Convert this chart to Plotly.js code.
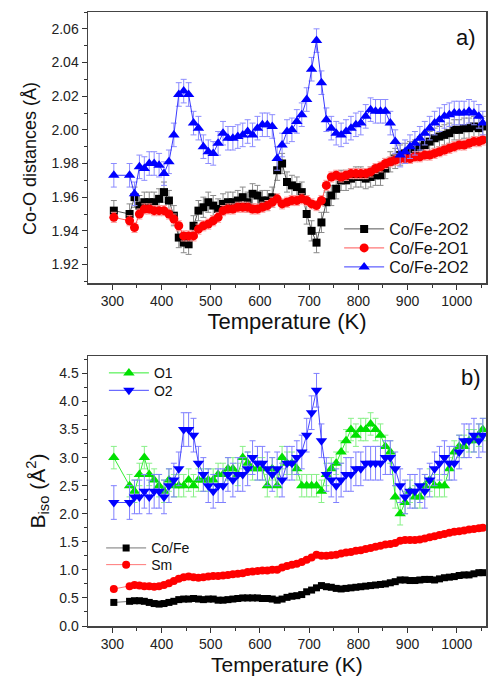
<!DOCTYPE html>
<html>
<head>
<meta charset="utf-8">
<script src="https://cdn.plot.ly/plotly-3.0.1.min.js"></script>
<style>html,body{margin:0;padding:0;background:#fff;}#chart{width:488px;height:676px;}</style>
</head>
<body>
<div id="chart"></div>
<script>
const temperature = [303,335,345,355,365,375,385,395,405,415,
425,435,445,455,465,475,485,495,505,515,
525,535,545,555,565,575,585,595,605,615,
625,635,645,655,665,675,685,695,705,715,
725,735,745,755,765,775,785,795,805,815,
825,835,845,855,865,875,885,895,905,915,
925,935,945,955,965,975,985,995,1005,1015,
1025,1035,1045,1053];

const coFe2O2_sq = [1.952,1.950,1.960,1.955,1.957,1.957,1.957,1.959,1.963,1.958,
1.949,1.936,1.933,1.932,1.943,1.952,1.954,1.957,1.955,1.953,
1.956,1.957,1.957,1.958,1.960,1.957,1.962,1.961,1.958,1.958,
1.960,1.976,1.980,1.969,1.967,1.966,1.963,1.950,1.940,1.933,
1.945,1.957,1.961,1.965,1.970,1.970,1.971,1.972,1.972,1.971,
1.972,1.973,1.973,1.977,1.981,1.983,1.985,1.986,1.987,1.988,
1.990,1.991,1.993,1.995,1.996,1.997,1.998,2.000,2.000,2.001,
2.001,2.002,2.001,2.002];

const coFe2O1 = [1.948,1.946,1.942,1.950,1.953,1.953,1.952,1.952,1.952,1.950,
1.947,1.943,1.937,1.937,1.937,1.941,1.943,1.944,1.946,1.948,
1.952,1.953,1.953,1.954,1.954,1.954,1.953,1.953,1.954,1.955,
1.957,1.959,1.956,1.957,1.958,1.958,1.959,1.958,1.956,1.955,
1.958,1.967,1.972,1.973,1.972,1.973,1.974,1.974,1.974,1.974,
1.975,1.977,1.978,1.980,1.981,1.982,1.983,1.983,1.983,1.984,
1.984,1.985,1.985,1.986,1.987,1.988,1.989,1.990,1.991,1.991,
1.992,1.993,1.993,1.994];

const coFe2O2_tri = [1.973,1.973,1.962,1.978,1.977,1.980,1.980,1.979,1.974,1.981,
1.997,2.021,2.023,2.021,2.004,2.001,1.990,1.987,1.986,1.992,
1.998,1.995,1.995,1.996,1.997,1.999,1.997,2.001,2.003,2.003,
2.002,1.983,1.991,1.999,2.000,2.005,2.009,2.018,2.036,2.053,
2.028,2.006,2.001,1.998,1.997,1.999,2.001,2.003,2.004,2.008,
2.012,2.011,2.011,2.011,2.004,1.993,1.985,1.987,1.990,1.992,
1.995,1.998,2.001,2.004,2.006,2.008,2.009,2.010,2.010,2.010,
2.011,2.010,2.008,2.004];

const bO1 = [3.0,2.5,2.4,2.7,3.0,2.7,2.6,2.5,2.4,2.6,
2.5,2.5,2.5,2.6,2.5,2.6,2.6,2.6,2.6,2.7,
2.7,2.8,2.8,2.7,3.0,2.9,2.8,2.8,2.8,2.5,
2.8,2.5,3.0,2.9,2.9,2.8,2.5,2.5,2.5,2.5,
2.4,2.7,2.8,2.9,3.1,3.3,3.5,3.4,3.5,3.5,
3.6,3.5,3.4,3.2,3.1,2.3,2.0,2.2,2.4,2.3,
2.3,2.5,2.6,2.5,2.5,2.5,2.8,3.1,3.2,3.2,
3.3,3.3,3.4,3.5];

const bO2 = [2.2,2.2,2.3,2.3,2.4,2.3,2.4,2.4,2.3,2.5,
2.6,2.8,3.5,3.5,3.4,2.9,2.7,2.5,2.4,2.5,
2.5,2.7,2.6,2.7,2.7,2.8,3.0,2.9,2.9,2.8,
2.7,2.8,2.6,2.9,2.9,3.0,3.1,3.4,3.8,4.2,
3.3,2.7,2.6,2.5,2.6,2.7,2.7,2.8,2.8,2.9,
2.9,2.9,2.9,3.0,3.0,2.8,2.5,2.3,2.4,2.4,
2.5,2.4,2.6,2.8,2.9,3.0,2.9,2.9,3.1,3.3,
3.3,3.4,3.3,3.4];

const bCoFe = [0.42,0.44,0.45,0.45,0.44,0.42,0.40,0.39,0.40,0.42,
0.44,0.47,0.48,0.48,0.49,0.48,0.47,0.48,0.48,0.46,
0.46,0.47,0.48,0.49,0.50,0.50,0.50,0.50,0.49,0.49,
0.48,0.46,0.48,0.51,0.53,0.54,0.56,0.61,0.64,0.68,
0.72,0.70,0.69,0.67,0.66,0.67,0.68,0.69,0.70,0.71,
0.72,0.73,0.74,0.75,0.77,0.79,0.82,0.82,0.81,0.81,
0.82,0.83,0.83,0.82,0.84,0.86,0.87,0.88,0.90,0.91,
0.91,0.93,0.95,0.95];

const bSm = [0.66,0.71,0.73,0.72,0.71,0.71,0.70,0.71,0.73,0.76,
0.80,0.84,0.87,0.88,0.87,0.86,0.87,0.88,0.89,0.89,
0.90,0.91,0.92,0.93,0.94,0.96,0.97,0.98,0.99,0.99,
1.00,1.00,1.04,1.07,1.09,1.11,1.14,1.18,1.22,1.27,
1.25,1.25,1.26,1.27,1.29,1.31,1.32,1.34,1.35,1.37,
1.39,1.41,1.43,1.45,1.46,1.48,1.52,1.53,1.53,1.53,
1.54,1.56,1.58,1.60,1.62,1.64,1.66,1.68,1.69,1.70,
1.72,1.73,1.74,1.75];

const FONT = 'Liberation Sans, Arial, sans-serif';

function tr(y, name, sym, size, col, lcol, ecol, err, xa, ya, lg) {
  return {
    x: temperature, y: y, name: name, type: 'scatter', mode: 'lines+markers',
    xaxis: xa, yaxis: ya, legend: lg,
    marker: {symbol: sym, size: size, color: col},
    line: {color: lcol, width: 1},
    error_y: {type: 'constant', value: err, color: ecol, thickness: 1, width: 3}
  };
}

const data = [
  tr(coFe2O2_sq, 'Co/Fe-2O2', 'square', 8, '#000000', '#555555', '#8a8a8a', 0.006, 'x', 'y', 'legend'),
  tr(coFe2O1, 'Co/Fe-2O1', 'circle', 9, '#ff0000', '#ff5555', '#ff9a9a', 0.003, 'x', 'y', 'legend2'),
  tr(coFe2O2_tri, 'Co/Fe-2O2', 'triangle-up', 10, '#0000ff', '#3a3aff', '#8c8cff', 0.007, 'x', 'y', 'legend3'),
  tr(bO1, 'O1', 'triangle-up', 10, '#00e000', '#33ee33', '#88f088', 0.2, 'x2', 'y2', 'legend4'),
  tr(bO2, 'O2', 'triangle-down', 10, '#0000ff', '#4a4aff', '#8080ff', 0.3, 'x2', 'y2', 'legend5'),
  tr(bCoFe, 'Co/Fe', 'square', 7, '#000000', '#777777', '#777777', 0.01, 'x2', 'y2', 'legend6'),
  tr(bSm, 'Sm', 'circle', 8, '#ff0000', '#ff7777', '#ff7777', 0.01, 'x2', 'y2', 'legend7')
];

const axCommon = {
  showgrid: false, zeroline: false, showline: true, linecolor: '#444', linewidth: 1.5,
  mirror: true, ticks: 'outside', ticklen: 5, tickwidth: 1, tickcolor: '#333',
  tickfont: {family: FONT, size: 14, color: '#222'}
};

function lg(x, y, size) {
  return {x: x, y: y, xanchor: 'left', yanchor: 'middle', bgcolor: 'rgba(0,0,0,0)',
    font: {family: FONT, size: size, color: '#111'}, itemwidth: 40};
}

const layout = {
  width: 488, height: 676,
  margin: {l: 88, r: 2, t: 12, b: 50},
  paper_bgcolor: '#fff', plot_bgcolor: '#fff',
  font: {family: FONT, color: '#111'},
  showlegend: true,
  xaxis: Object.assign({}, axCommon, {
    anchor: 'y', range: [250.5, 1059.5], dtick: 100, tick0: 0,
    minor: {dtick: 50, ticks: 'outside', ticklen: 3, tickcolor: '#333'},
    title: {text: 'Temperature (K)', font: {family: FONT, size: 22, color: '#111'}, standoff: 4}
  }),
  yaxis: Object.assign({}, axCommon, {
    domain: [0.5586, 1], anchor: 'x', range: [1.909, 2.07], dtick: 0.02, tick0: 1.92, tickformat: '.2f',
    minor: {dtick: 0.01, ticks: 'outside', ticklen: 3, tickcolor: '#333'}
  }),
  xaxis2: Object.assign({}, axCommon, {
    anchor: 'y2', range: [250.5, 1059.5], dtick: 100, tick0: 0,
    minor: {dtick: 50, ticks: 'outside', ticklen: 3, tickcolor: '#333'}
  }),
  yaxis2: Object.assign({}, axCommon, {
    domain: [0, 0.4397], anchor: 'x2', range: [0, 4.81], dtick: 0.5, tick0: 0, tickformat: '.1f',
    minor: {dtick: 0.25, ticks: 'outside', ticklen: 3, tickcolor: '#333'},
    title: {text: 'B<sub>iso</sub> (Å<sup>2</sup>)', font: {family: FONT, size: 21, color: '#111'}, standoff: 8}
  }),
  legend:  lg(0.631, 0.6466, 16),
  legend2: lg(0.631, 0.6156, 16),
  legend3: lg(0.631, 0.5847, 16),
  legend4: lg(0.040, 0.4116, 14),
  legend5: lg(0.040, 0.3832, 14),
  legend6: lg(0.033, 0.1265, 14),
  legend7: lg(0.033, 0.0993, 14),
  annotations: [
    {text: 'Co-O distances (Å)', xref: 'paper', yref: 'paper', x: -0.146, y: 0.762,
     xanchor: 'center', yanchor: 'middle', textangle: -90, showarrow: false,
     font: {family: FONT, size: 18, color: '#111'}},
    {text: 'Temperature (K)', xref: 'paper', yref: 'paper', x: 0.5, y: -0.0625,
     xanchor: 'center', yanchor: 'middle', showarrow: false,
     font: {family: FONT, size: 21, color: '#111'}},
    {text: 'a)', xref: 'paper', yref: 'paper', x: 0.95, y: 0.9577, xanchor: 'center', yanchor: 'middle',
     showarrow: false, font: {family: FONT, size: 22, color: '#111'}},
    {text: 'b)', xref: 'paper', yref: 'paper', x: 0.962, y: 0.4055, xanchor: 'center', yanchor: 'middle',
     showarrow: false, font: {family: FONT, size: 22, color: '#111'}}
  ]
};

Plotly.newPlot('chart', data, layout, {displayModeBar: false, staticPlot: true});
</script>
</body>
</html>
